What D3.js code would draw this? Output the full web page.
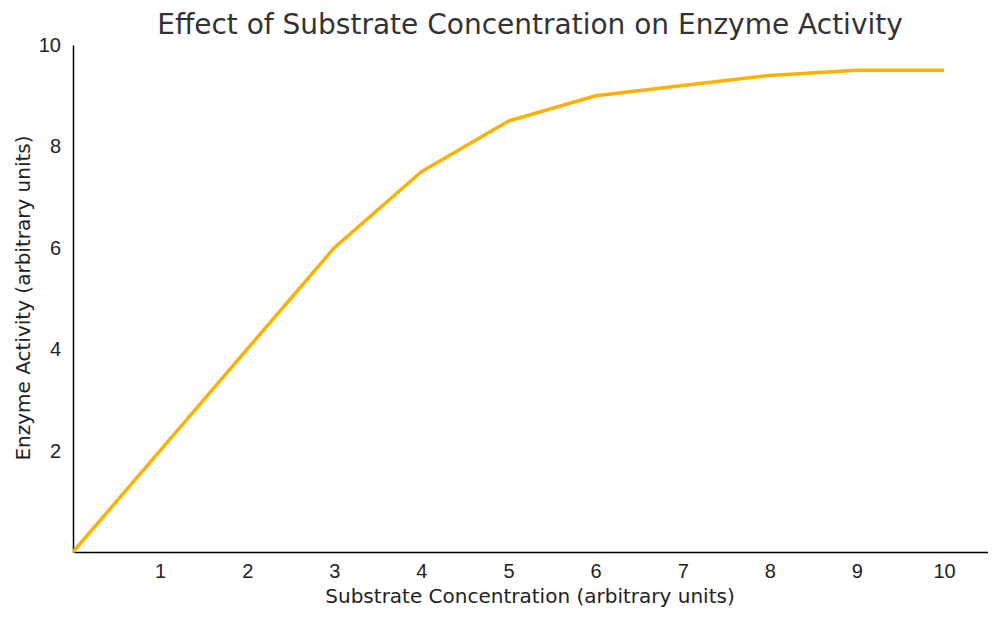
<!DOCTYPE html>
<html>
<head>
<meta charset="utf-8">
<script src="https://cdn.jsdelivr.net/npm/d3@7"></script>
<style>
  body { margin: 0; background: #fff; font-family: "DejaVu Sans", sans-serif; }
  .tick line { display: none; }
  .tick text { font-size: 20px; fill: #222; }
</style>
</head>
<body>
<div id="chart"></div>
<script>
const concentration = [0, 1, 2, 3, 4, 5, 6, 7, 8, 9, 10];
const activity = [0, 2, 4, 6, 7.5, 8.5, 9, 9.2, 9.4, 9.5, 9.5];
const xTicks = [1, 2, 3, 4, 5, 6, 7, 8, 9, 10];
const yTicks = [2, 4, 6, 8, 10];

const width = 1000, height = 620,
    margin = ({ top: 45, right: 12, bottom: 68, left: 73 });

const svg = d3.select("#chart")
    .append("svg")
    .attr("width", width)
    .attr("height", height);

const x = d3.scaleLinear()
    .domain([0, 10.5])
    .range([margin.left, margin.left + 87.1 * 10.5]);

const y = d3.scaleLinear()
    .domain([0, 10])
    .range([height - margin.bottom, margin.top]);

svg.append("g")
    .attr("transform", `translate(0,${height - margin.bottom})`)
    .call(d3.axisBottom(x).tickValues(xTicks).tickSizeOuter(0).tickPadding(6))
    .call(g => g.select(".domain").attr("stroke", "#000").attr("stroke-width", 1.5));

svg.append("g")
    .attr("transform", `translate(${margin.left},0)`)
    .call(d3.axisLeft(y).tickValues(yTicks).tickSizeOuter(0).tickPadding(6))
    .call(g => g.select(".domain").attr("stroke", "#000").attr("stroke-width", 1.5));

svg.append("text")
    .attr("x", 530).attr("y", 34)
    .attr("text-anchor", "middle")
    .attr("font-size", 28)
    .attr("fill", "#333")
    .text("Effect of Substrate Concentration on Enzyme Activity");

svg.append("text")
    .attr("x", 530).attr("y", 603)
    .attr("text-anchor", "middle")
    .attr("font-size", 20)
    .attr("fill", "#222")
    .text("Substrate Concentration (arbitrary units)");

svg.append("text")
    .attr("transform", "translate(30,298) rotate(-90)")
    .attr("text-anchor", "middle")
    .attr("font-size", 20)
    .attr("fill", "#222")
    .text("Enzyme Activity (arbitrary units)");

const line = d3.line()
    .x((d, i) => x(concentration[i]))
    .y(d => y(d));

svg.append("path")
    .datum(activity)
    .attr("d", line)
    .attr("fill", "none")
    .attr("stroke", "#FFB000")
    .attr("stroke-width", 3.5);
</script>
</body>
</html>
